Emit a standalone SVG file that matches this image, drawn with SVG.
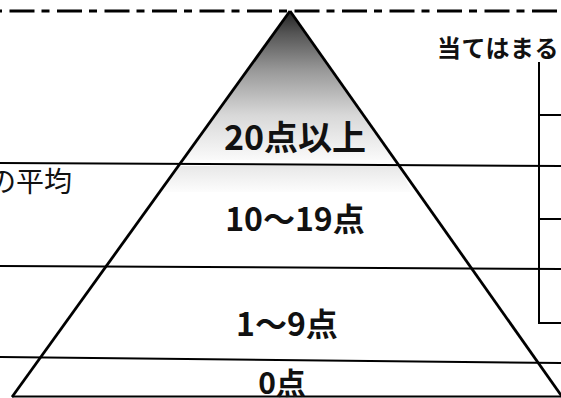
<svg xmlns="http://www.w3.org/2000/svg" width="561" height="398" viewBox="0 0 561 398">
<style>
.ln{stroke:#000;stroke-width:2;fill:none;stroke-linecap:butt}
.edge{stroke:#000;stroke-width:2.8;fill:none}
.lbl{font-family:"Noto Sans CJK JP","Noto Sans",sans-serif;font-weight:700;fill:#111;text-anchor:middle}
.txt{font-family:"Noto Sans CJK JP","Noto Sans",sans-serif;fill:#111}
</style>
<defs>
<linearGradient id="topShade" x1="0" y1="11" x2="0" y2="160" gradientUnits="userSpaceOnUse">
<stop offset="0" stop-color="#222"/>
<stop offset="0.15" stop-color="#555"/>
<stop offset="0.4" stop-color="#999"/>
<stop offset="0.7" stop-color="#d8d8d8"/>
<stop offset="1" stop-color="#fafafa"/>
</linearGradient>
<linearGradient id="band" x1="0" y1="166" x2="0" y2="195" gradientUnits="userSpaceOnUse">
<stop offset="0" stop-color="#e8e8e8"/>
<stop offset="1" stop-color="#ffffff"/>
</linearGradient>
</defs>
<rect width="561" height="398" fill="#fff"/>
<g id="shading">
<polygon points="290,11 182,160 395,160" fill="url(#topShade)"/>
<polygon points="180,166 399,166 412,192 162,192" fill="url(#band)"/>
</g>
<g id="connectors">
<line x1="0" y1="11" x2="561" y2="11" stroke="#000" stroke-width="3" stroke-dasharray="25 7 8 7.5" stroke-dashoffset="38"/>
<line class="ln" x1="0" y1="163" x2="561" y2="166"/>
<line class="ln" x1="0" y1="266" x2="561" y2="269"/>
<line class="ln" x1="0" y1="357" x2="561" y2="363"/>
<line class="ln" x1="12" y1="396.5" x2="561" y2="396.5" stroke-width="2.5"/>
<line class="edge" x1="290" y1="11" x2="12" y2="397"/>
<line class="edge" x1="290" y1="11" x2="563" y2="398"/>
<polyline class="ln" points="539,62 539,323 561,323" stroke-width="2.5"/>
<line class="ln" x1="539" y1="115" x2="561" y2="115" stroke-width="2.5"/>
<line class="ln" x1="539" y1="219" x2="561" y2="219" stroke-width="2.5"/>
</g>
<g id="level-20"><text class="lbl" x="295" y="150" font-size="34">20点以上</text></g>
<g id="level-10"><text class="lbl" x="295" y="231" font-size="32">10〜19点</text></g>
<g id="level-1"><text class="lbl" x="287" y="336" font-size="32">1〜9点</text></g>
<g id="level-0"><text class="lbl" x="282" y="394" font-size="30">0点</text></g>
<g id="heading"><text class="txt" x="437" y="57" font-size="24" font-weight="700" letter-spacing="0.5">当てはまる</text></g>
<g id="left-label"><text class="txt" x="-12" y="192" font-size="28">の平均</text></g>
</svg>
